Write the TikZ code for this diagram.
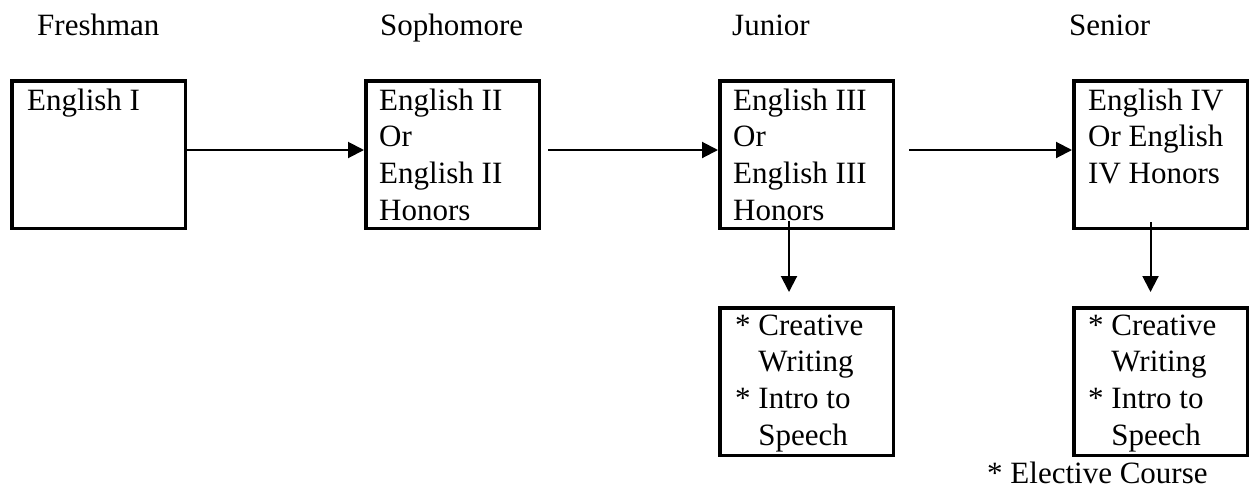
\documentclass[tikz,border=0pt]{standalone}
\usepackage{fontspec}
\setmainfont{Liberation Serif}
\usetikzlibrary{arrows.meta}
\begin{document}
\begin{tikzpicture}[x=1pt,y=-1pt,
  box/.style={draw=black,line width=3.5pt,rectangle,inner sep=0pt,
    minimum width=173.5pt,minimum height=147.5pt,anchor=north west},
  txt/.style={inner sep=0pt,anchor=base west,
    font=\fontsize{31}{36.7}\selectfont},
  arr/.style={line width=2pt,-{Triangle[length=16pt,width=16pt]}}]
\useasboundingbox (0,0) rectangle (1249,488);
% headers
\node[txt] (h1) at (37,35) {Freshman};
\node[txt] (h2) at (380,35) {Sophomore};
\node[txt] (h3) at (732,35) {Junior};
\node[txt] (h4) at (1069,35) {Senior};
% boxes
\node[box] (b1) at (10,79) {};
\node[box] (b2) at (364,79) {};
\node[box] (b3) at (718,79) {};
\node[box] (b4) at (1072,79) {};
\node[box] (b3b) at (718,306) {};
\node[box] (b4b) at (1072,306) {};
% box texts
\node[txt] (t1) at ([shift={(17,31)}]b1.north west) {\parbox[t]{170pt}{English I}};
\node[txt] (t2) at ([shift={(15,31)}]b2.north west) {\parbox[t]{170pt}{English II\\Or\\English II\\Honors}};
\node[txt] (t3) at ([shift={(15,31)}]b3.north west) {\parbox[t]{170pt}{English III\\Or\\English III\\Honors}};
\node[txt] (t4) at ([shift={(16,31)}]b4.north west) {\parbox[t]{170pt}{English IV\\Or English\\IV Honors}};
\node[txt] (t3b) at ([shift={(17,29)}]b3b.north west) {\parbox[t]{170pt}{* Creative\\\hphantom{* }Writing\\{}* Intro to\\\hphantom{* }Speech}};
\node[txt] (t4b) at ([shift={(16,29)}]b4b.north west) {\parbox[t]{170pt}{* Creative\\\hphantom{* }Writing\\{}* Intro to\\\hphantom{* }Speech}};
\node[txt] (note) at (987,483) {* Elective Course};
% connectors
\draw[arr] ([yshift=4.5pt]b1.east) -- ([yshift=4.5pt]b2.west);
\draw[arr] ([xshift=7pt,yshift=4.5pt]b2.east) -- ([yshift=4.5pt]b3.west);
\draw[arr] ([xshift=14pt,yshift=4.5pt]b3.east) -- ([yshift=4.5pt]b4.west);
\draw[arr] ([xshift=-17.5pt,yshift=9pt]b3.south) -- ([xshift=-17.5pt,yshift=14pt]b3b.north);
\draw[arr] ([xshift=-10pt,yshift=8pt]b4.south) -- ([xshift=-10pt,yshift=14pt]b4b.north);
\end{tikzpicture}
\end{document}
